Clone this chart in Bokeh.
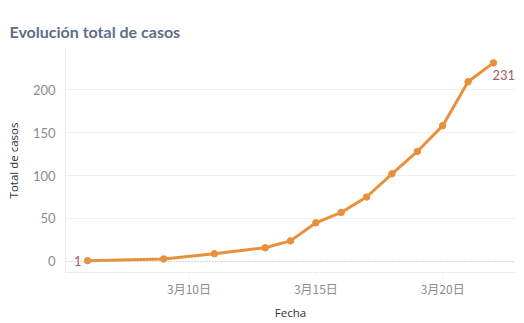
from bokeh.plotting import figure
from bokeh.models import ColumnDataSource, FixedTicker, Span, Title, Label, Range1d
from bokeh.embed import file_html
from bokeh.resources import INLINE

# Data: day of March, total cases
days = [6, 9, 11, 13, 14, 15, 16, 17, 18, 19, 20, 21, 22]
totals = [1, 3, 9, 16, 24, 45, 57, 75, 102, 128, 158, 209, 231]
x_ticks = [10, 15, 20]
x_tick_labels = ["3月10日", "3月15日", "3月20日"]
y_ticks = [0, 50, 100, 150, 200]

LINE = "#e8913a"
LABEL_C = "#a9576a"
TICK_C = "#8c8c8c"

p = figure(width=524, height=323, output_backend="svg", toolbar_location=None,
           x_range=Range1d(days[0] - 0.87, days[-1] + 0.87),
           y_range=Range1d(-12.8, 247.7),
           min_border_left=65, min_border_right=9, min_border_top=48, min_border_bottom=51)
p.outline_line_color = None
p.background_fill_color = "white"

p.title = Title(text="Evolución total de casos", align="left", offset=-56,
                text_font="Lato", text_font_size="16px", text_font_style="bold",
                text_color="#5c6f89", standoff=16)

src = ColumnDataSource(dict(x=days, y=totals))
p.add_layout(Span(location=0, dimension="width", line_color="#b0b0b0",
                  line_dash="1 2", line_width=1))
p.line("x", "y", source=src, line_color=LINE, line_width=3)
p.scatter("x", "y", source=src, size=6.5, color=LINE)

p.add_layout(Label(x=days[0], y=totals[0], text=str(totals[0]), x_offset=-6, y_offset=0,
                   text_align="right", text_baseline="middle", text_font="Lato",
                   text_font_size="13px", text_color=LABEL_C))
p.add_layout(Label(x=days[-1], y=totals[-1], text=str(totals[-1]), x_offset=-1, y_offset=-7,
                   text_align="left", text_baseline="top", text_font="Lato",
                   text_font_size="13px", text_color=LABEL_C))

# axes
p.xaxis.ticker = FixedTicker(ticks=x_ticks)
p.xaxis.major_label_overrides = {t: l for t, l in zip(x_ticks, x_tick_labels)}
p.xaxis.axis_label = "Fecha"
p.xaxis.axis_label_text_font = "Open Sans"
p.xaxis.axis_label_text_font_style = "normal"
p.xaxis.axis_label_text_font_size = "11.5px"
p.xaxis.axis_label_text_color = "#333333"
p.xaxis.axis_label_standoff = 5
p.xaxis.major_label_text_font = "Noto Sans CJK SC"
p.xaxis.major_label_text_font_size = "12px"
p.xaxis.major_label_text_color = TICK_C
p.xaxis.major_label_standoff = 3
p.xaxis.axis_line_color = "#eeeeee"
p.xaxis.major_tick_line_color = "#eeeeee"
p.xaxis.major_tick_out = 4
p.xaxis.major_tick_in = 0
p.xaxis.minor_tick_line_color = None

p.yaxis.ticker = FixedTicker(ticks=y_ticks)
p.yaxis.axis_label = "Total de casos"
p.yaxis.axis_label_text_font = "Open Sans"
p.yaxis.axis_label_text_font_style = "normal"
p.yaxis.axis_label_text_font_size = "11.5px"
p.yaxis.axis_label_text_color = "#333333"
p.yaxis.axis_label_standoff = 9
p.yaxis.major_label_text_font = "Lato"
p.yaxis.major_label_text_font_size = "13px"
p.yaxis.major_label_text_color = TICK_C
p.yaxis.major_label_standoff = 4
p.yaxis.axis_line_color = "#eeeeee"
p.yaxis.major_tick_line_color = None
p.yaxis.minor_tick_line_color = None

p.xgrid.grid_line_color = None
p.ygrid.grid_line_color = "#f0f0f0"
p.ygrid.ticker = FixedTicker(ticks=[50, 100, 150, 200])

open("out.html", "w").write(file_html(p, INLINE))
